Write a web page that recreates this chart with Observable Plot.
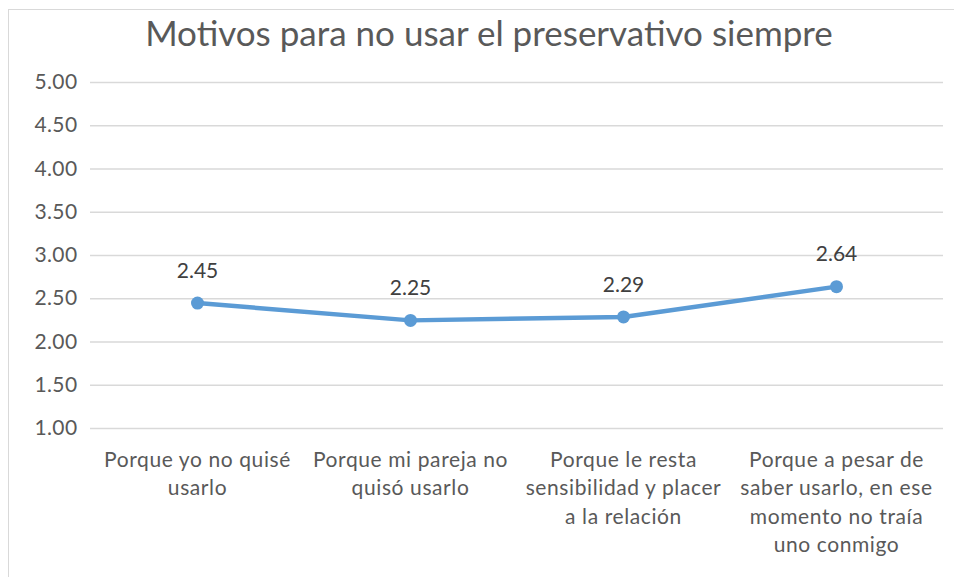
<!DOCTYPE html>
<html><head><meta charset="utf-8">
<script src="https://cdn.jsdelivr.net/npm/d3@7"></script>
<script src="https://cdn.jsdelivr.net/npm/@observablehq/plot@0.6"></script>
<style>
html,body{margin:0;padding:0;background:#fff;overflow:hidden;width:954px;height:577px;}
#frame{position:absolute;left:8px;top:9px;width:970px;height:600px;border:1px solid #d9d9d9;box-sizing:border-box;}
#title{position:absolute;left:0;top:11px;width:978px;text-align:center;font-family:Lato,"Open Sans",sans-serif;font-weight:400;font-size:35px;line-height:42px;color:#595959;}
#chart{position:absolute;left:0;top:62px;}
#chart g[aria-label="x-axis tick label"]{letter-spacing:0.6px;}
#chart g[aria-label="y-axis tick label"]{letter-spacing:0.4px;}
</style></head><body>
<div id="frame"></div>
<div id="title">Motivos para no usar el preservativo siempre</div>
<div id="chart"></div>
<script>
const categories = ["c1","c2","c3","c4"];
const tickLabels = [
  "Porque yo no quisé\nusarlo",
  "Porque mi pareja no\nquisó usarlo",
  "Porque le resta\nsensibilidad y placer\na la relación",
  "Porque a pesar de\nsaber usarlo, en ese\nmomento no traía\nuno conmigo"
];
const values = [2.45, 2.25, 2.29, 2.64];
const yTicks = [1, 1.5, 2, 2.5, 3, 3.5, 4, 4.5, 5];

const data = categories.map((c, i) => ({cat: c, value: values[i]}));
const labelOf = new Map(categories.map((c, i) => [c, tickLabels[i]]));

const chart = Plot.plot({
  width: 954,
  height: 515,
  marginLeft: 90,
  marginRight: 11,
  marginTop: 20,
  marginBottom: 149,
  style: {fontFamily: "Lato, 'Open Sans', sans-serif", fontSize: "20px", color: "#595959", background: "transparent"},
  x: {type: "point", domain: categories, padding: 0.5, label: null},
  y: {domain: [1, 5], label: null},
  marks: [
    Plot.gridY(yTicks, {stroke: "#d9d9d9", strokeOpacity: 1, strokeWidth: 1.3}),
    Plot.axisY(yTicks, {tickSize: 0, tickPadding: 13, tickFormat: d => d.toFixed(2), fill: "#595959", fontSize: 21, label: null}),
    Plot.axisX({tickSize: 0, tickPadding: 18, tickFormat: d => labelOf.get(d), fill: "#595959", fontSize: 21, lineHeight: 1.36, label: null}),
    Plot.line(data, {x: "cat", y: "value", stroke: "#5b9bd5", strokeWidth: 4.5}),
    Plot.dot(data, {x: "cat", y: "value", fill: "#5b9bd5", r: 6.5}),
    Plot.text(data, {x: "cat", y: "value", text: d => d.value.toFixed(2), dy: -32, fill: "#404040", fontSize: 21})
  ]
});
document.getElementById("chart").appendChild(chart);
</script>
</body></html>
